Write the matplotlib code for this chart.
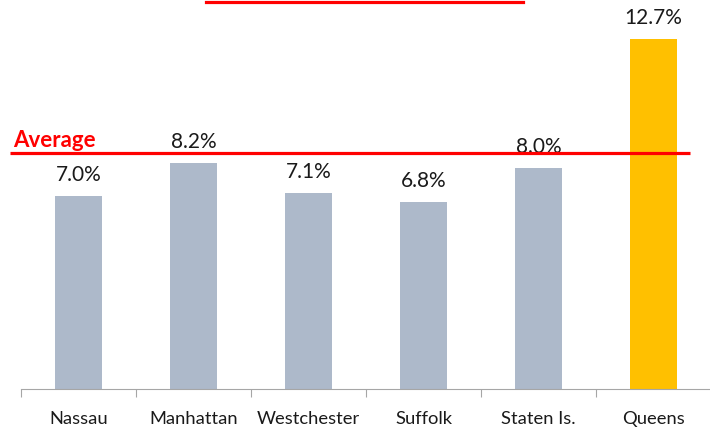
import matplotlib
matplotlib.use('Agg')
import matplotlib.pyplot as plt
from matplotlib.lines import Line2D

plt.rcParams['font.family'] = ['Lato', 'DejaVu Sans']

# Data
counties = ['Nassau', 'Manhattan', 'Westchester', 'Suffolk', 'Staten Is.', 'Queens']
rates = [7.0, 8.2, 7.1, 6.8, 8.0, 12.7]
labels = ['7.0%', '8.2%', '7.1%', '6.8%', '8.0%', '12.7%']
avg_rate = 8.55

grey = '#ADB9CA'
gold = '#FFC000'
colors = [grey] * 5 + [gold]

W, H = 710, 428
fig = plt.figure(figsize=(W / 100, H / 100), dpi=100)
ax = fig.add_axes([21 / W, 39 / H, 690 / W, 386 / H])

pos = list(range(len(counties)))
ax.bar(pos, rates, width=0.41, color=colors, zorder=2)

for x, y, s in zip(pos, rates, labels):
    ax.annotate(s, (x, y), xytext=(0, 10.8), textcoords='offset points',
                ha='center', va='baseline', fontsize=15, color='#1A1A1A')

ax.set_xlim(-0.5, 5.5)
ax.set_ylim(0, 14)

# Average line, running a bit past the axes on the left
ax.plot([-0.596, 5.317], [avg_rate, avg_rate], color='#FF0000', lw=2.3,
        clip_on=False, zorder=3, solid_capstyle='butt')
ax.text(-0.57, avg_rate + 0.23, 'Average', color='#FF0000', fontsize=16,
        fontweight='bold', ha='left', va='baseline')

# Red rule at the top of the figure
fig.add_artist(Line2D([206 / W, 523 / W], [1 - 1.5 / H, 1 - 1.5 / H],
                      transform=fig.transFigure, color='#FF0000', lw=2.3))

# Axis styling: ticks on category boundaries, labels at centres
for side in ['top', 'right', 'left']:
    ax.spines[side].set_visible(False)
ax.spines['bottom'].set_color('#A6A6A6')
ax.set_yticks([])
ax.set_xticks([p - 0.5 for p in pos] + [5.5])
ax.set_xticklabels([])
ax.tick_params(axis='x', which='major', length=6, color='#A6A6A6')
ax.set_xticks(pos, minor=True)
ax.set_xticklabels(counties, minor=True, fontsize=13.2, color='#1A1A1A')
ax.tick_params(axis='x', which='minor', length=0, pad=16)

fig.savefig('out.png', dpi=100)
